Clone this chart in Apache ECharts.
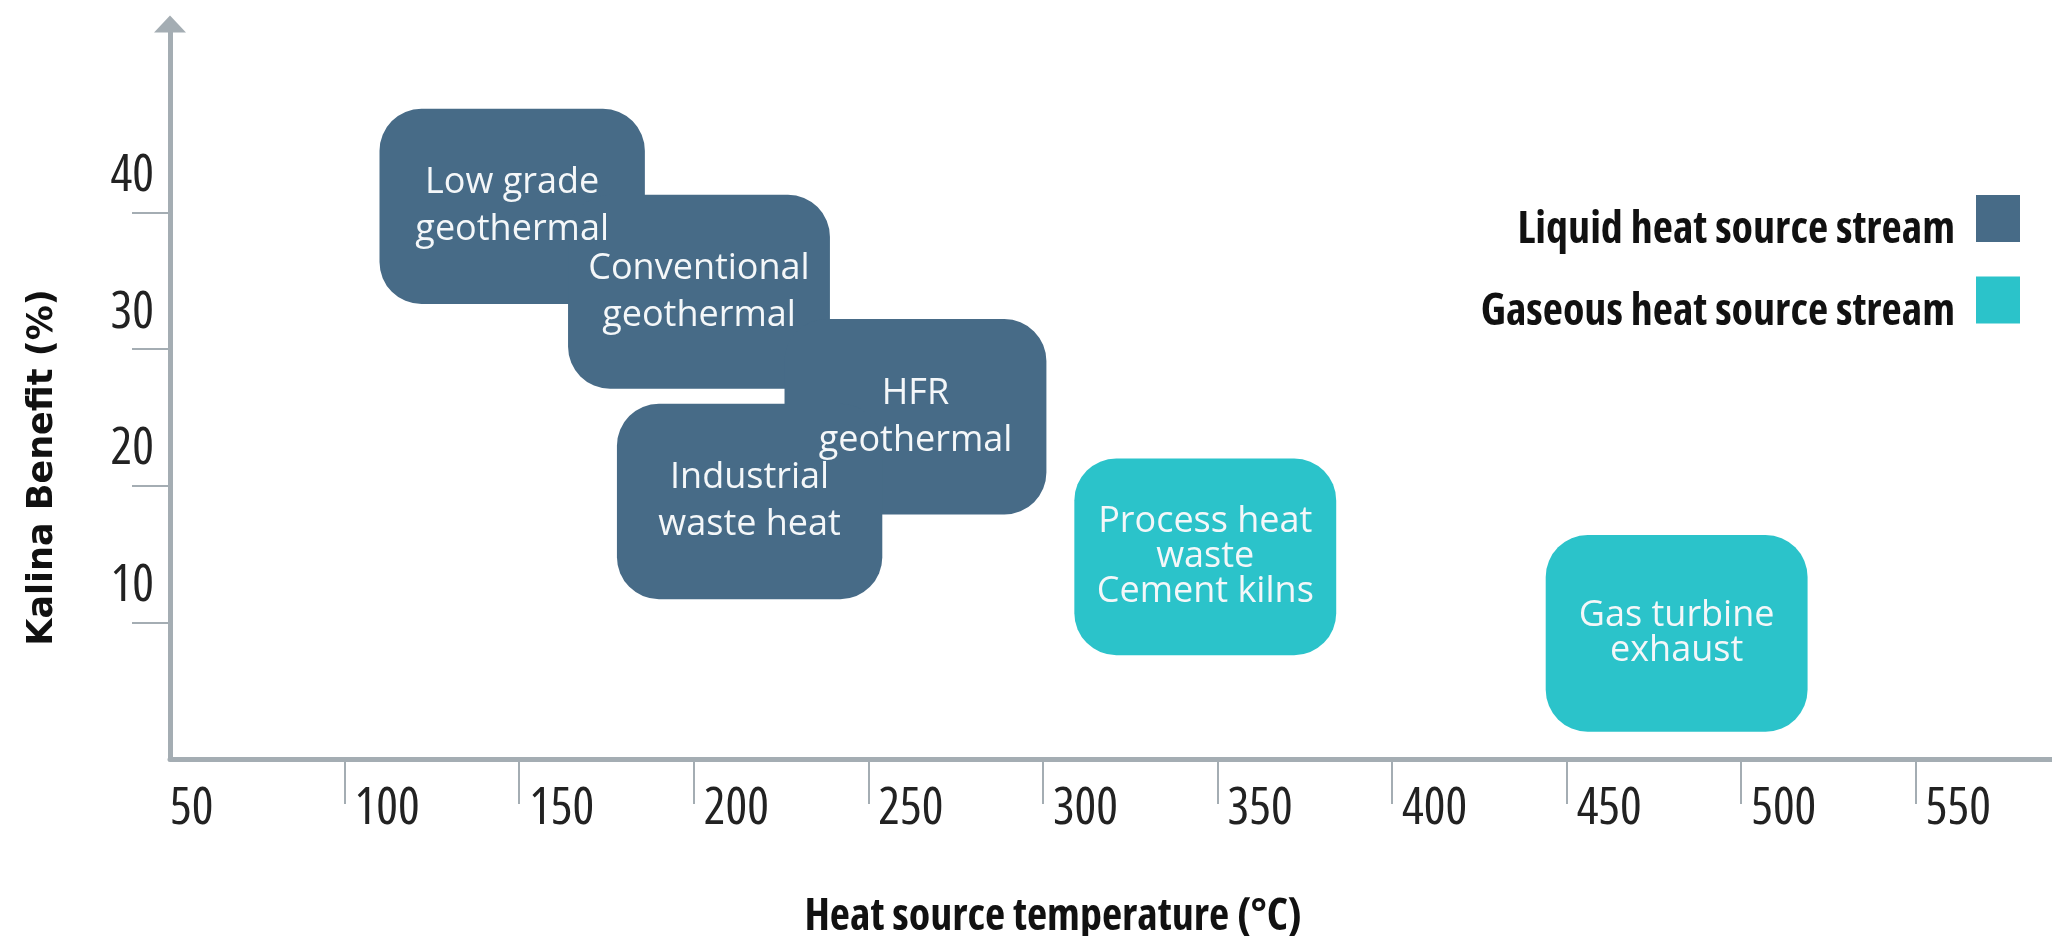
<!DOCTYPE html>
<html>
<head>
<meta charset="utf-8">
<script src="https://cdn.jsdelivr.net/npm/echarts@6/dist/echarts.min.js"></script>
<style>
  html, body { margin: 0; padding: 0; background: #ffffff; }
  #chart { width: 2052px; height: 936px; }
</style>
</head>
<body>
<div id="chart"></div>
<script>
// ---- data ----
const categories = ['Low grade\ngeothermal', 'Conventional\ngeothermal', 'HFR\ngeothermal', 'Industrial\nwaste heat', 'Process heat\nwaste\nCement kilns', 'Gas turbine\nexhaust'];
const streamType = ['liquid', 'liquid', 'liquid', 'liquid', 'gaseous', 'gaseous'];
const tempLow = [110, 164, 226, 178, 309, 444];
const tempHigh = [186, 239, 301, 254, 384, 519];
const benefitLow = [33.3, 27.1, 17.9, 11.7, 7.6, 2.0];
const benefitHigh = [47.6, 41.3, 32.2, 26.0, 22.0, 16.4];
const xTickValues = [50, 100, 150, 200, 250, 300, 350, 400, 450, 500, 550];
const yTickValues = [10, 20, 30, 40];
const seriesNames = { liquid: 'Liquid heat source stream', gaseous: 'Gaseous heat source stream' };

const OPEN = "'Open Sans', sans-serif";
const AXIS_COLOR = '#a4adb3';
const colors = { liquid: '#476b87', gaseous: '#2bc3ca' };
const lineHeights = { liquid: 47, gaseous: 35 };

function buildData(type) {
  const out = [];
  categories.forEach(function (name, i) {
    if (streamType[i] === type) {
      out.push({ name: name, value: [tempLow[i], tempHigh[i], benefitLow[i], benefitHigh[i]] });
    }
  });
  return out;
}

function makeSeries(type) {
  const data = buildData(type);
  return {
    name: seriesNames[type],
    type: 'custom',
    itemStyle: { color: colors[type] },
    encode: { x: [0, 1], y: [2, 3] },
    data: data,
    renderItem: function (params, api) {
      const x0 = api.value(0), x1 = api.value(1), y0 = api.value(2), y1 = api.value(3);
      const tl = api.coord([x0, y1]);
      const br = api.coord([x1, y0]);
      const name = data[params.dataIndex].name;
      return {
        type: 'group',
        children: [
          {
            type: 'rect',
            z2: 1,
            shape: { x: tl[0], y: tl[1], width: br[0] - tl[0], height: br[1] - tl[1], r: 42 },
            style: { fill: colors[type] }
          },
          {
            type: 'text',
            z2: 20,
            x: (tl[0] + br[0]) / 2,
            y: (tl[1] + br[1]) / 2,
            style: {
              text: name,
              fill: '#f4f7f9',
              font: '36px ' + OPEN,
              align: 'center',
              verticalAlign: 'middle',
              lineHeight: lineHeights[type]
            }
          }
        ]
      };
    }
  };
}

const xLabelFont = { fontFamily: OPEN, fontStyle: 'condensed', fontSize: 51, color: '#222' };
const legendFont = { fontFamily: OPEN, fontStyle: 'condensed', fontWeight: 'bold', fontSize: 44, color: '#111' };

const chart = echarts.init(document.getElementById('chart'), null, { renderer: 'canvas' });
chart.setOption({
  backgroundColor: '#ffffff',
  animation: false,
  grid: { left: 170, right: 0, top: 24, bottom: 177, containLabel: false, outerBoundsMode: 'none' },
  legend: {
    orient: 'vertical',
    right: 32,
    top: 195,
    padding: 0,
    align: 'right',
    icon: 'rect',
    itemWidth: 44,
    itemHeight: 47,
    itemGap: 24,
    selectedMode: false,
    data: [seriesNames.liquid, seriesNames.gaseous],
    formatter: function (name) { return '{t|' + name + '}'; },
    textStyle: Object.assign({
      padding: [0, 16, 0, 0],
      rich: { t: Object.assign({ padding: [24, 0, 0, 0] }, legendFont) }
    }, legendFont)
  },
  xAxis: {
    type: 'value',
    min: 50,
    max: 589,
    interval: 50,
    name: 'Heat source temperature (°C)',
    nameLocation: 'middle',
    nameGap: 136,
    nameTextStyle: { fontFamily: OPEN, fontStyle: 'condensed', fontWeight: 'bold', fontSize: 44, color: '#111', padding: [0, 116, 0, 0] },
    splitLine: { show: false },
    axisLine: { show: true, onZero: false, lineStyle: { color: AXIS_COLOR, width: 5 } },
    axisTick: { show: true, length: 45, customValues: xTickValues.slice(1), lineStyle: { color: AXIS_COLOR, width: 2 } },
    axisLabel: {
      customValues: xTickValues,
      fontFamily: OPEN, fontStyle: 'condensed', fontSize: 51, color: '#222',
      align: 'left', margin: 25,
      formatter: function (v) { return v === xTickValues[0] ? '{first|' + v + '}' : '{rest|' + v + '}'; },
      rich: {
        first: Object.assign({ padding: [0, 0, 0, 0] }, xLabelFont),
        rest: Object.assign({ padding: [0, 0, 0, 10] }, xLabelFont)
      }
    }
  },
  yAxis: {
    type: 'value',
    min: 0,
    max: 53.8,
    interval: 10,
    name: 'Kalina Benefit (%)',
    nameLocation: 'middle',
    nameGap: 110,
    nameTextStyle: { fontFamily: "'DejaVu Sans', sans-serif", fontWeight: 'bold', fontSize: 35, color: '#111', padding: [0, 152, 0, 0] },
    splitLine: { show: false },
    axisLine: {
      show: true, onZero: false,
      symbol: ['none', 'triangle'], symbolSize: [32, 17],
      lineStyle: { color: AXIS_COLOR, width: 5 }
    },
    axisTick: { show: true, length: 38, customValues: yTickValues, lineStyle: { color: AXIS_COLOR, width: 2 } },
    axisLabel: {
      customValues: yTickValues,
      fontFamily: OPEN, fontStyle: 'condensed', fontSize: 51, color: '#222',
      margin: 16, verticalAlign: 'bottom', lineHeight: 72
    }
  },
  series: [makeSeries('liquid'), makeSeries('gaseous')]
});
</script>
</body>
</html>
